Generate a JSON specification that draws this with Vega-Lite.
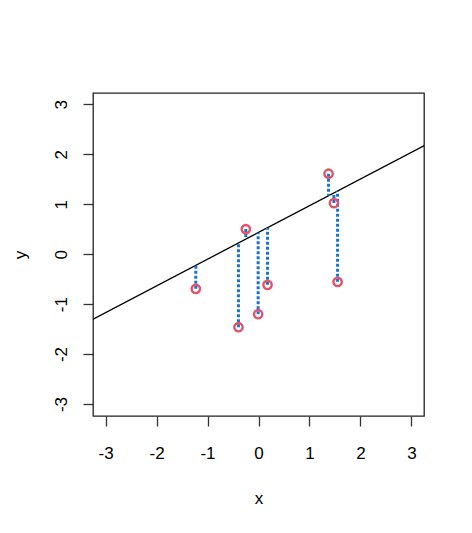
{
  "$schema": "https://vega.github.io/schema/vega-lite/v6.json",
  "autosize": {"type": "none"},
  "width": 331,
  "height": 323,
  "padding": {"left": 93, "top": 93, "right": 48, "bottom": 117},
  "background": "white",
  "config": {
    "font": "Liberation Sans",
    "view": {"stroke": "#222222", "strokeWidth": 1.3},
    "axis": {
      "grid": false,
      "domain": false,
      "tickColor": "#333333",
      "tickSize": 10,
      "tickWidth": 1.3,
      "labelFont": "Liberation Sans",
      "labelFontSize": 17,
      "labelColor": "#000000",
      "labelFlush": false,
      "labelOverlap": false,
      "titleFont": "Liberation Sans",
      "titleFontSize": 17,
      "titleFontWeight": "normal",
      "titleColor": "#000000"
    }
  },
  "datasets": {
    "pts": [
      {"x": -1.23, "y": -0.695, "yhat": -0.224},
      {"x": -0.393, "y": -1.463, "yhat": 0.224},
      {"x": -0.249, "y": 0.501, "yhat": 0.301},
      {"x": -0.007, "y": -1.202, "yhat": 0.430},
      {"x": 0.177, "y": -0.615, "yhat": 0.529},
      {"x": 1.374, "y": 1.61, "yhat": 1.169},
      {"x": 1.479, "y": 1.022, "yhat": 1.225},
      {"x": 1.551, "y": -0.554, "yhat": 1.264}
    ],
    "fit": [
      {"x": -4, "y": -1.706},
      {"x": 4, "y": 2.574}
    ]
  },
  "encoding": {
    "x": {"field": "x", "type": "quantitative",
          "scale": {"domain": [-3.246, 3.246], "nice": false, "zero": false},
          "axis": {"values": [-3, -2, -1, 0, 1, 2, 3], "title": "x", "labelPadding": 19, "titlePadding": 29,
                   "labelExpr": "datum.value < 0 ? '-' + abs(datum.value) : '' + datum.value"}},
    "y": {"field": "y", "type": "quantitative",
          "scale": {"domain": [-3.24, 3.226], "nice": false, "zero": false},
          "axis": {"values": [-3, -2, -1, 0, 1, 2, 3], "title": "y", "labelAngle": -90, "labelAlign": "center", "labelBaseline": "middle", "labelPadding": 22, "titlePadding": 23,
                   "labelExpr": "datum.value < 0 ? '-' + abs(datum.value) : '' + datum.value"}}
  },
  "layer": [
    {
      "data": {"name": "fit"},
      "mark": {"type": "line", "color": "#000000", "strokeWidth": 1.3, "clip": true}
    },
    {
      "data": {"name": "pts"},
      "mark": {"type": "rule", "color": "#1874CD", "strokeWidth": 3, "strokeDash": [3, 2]},
      "encoding": {
        "y2": {"field": "yhat"}
      }
    },
    {
      "data": {"name": "pts"},
      "mark": {"type": "point", "shape": "circle", "filled": false, "color": "#DF536B", "strokeWidth": 2.4, "size": 70, "opacity": 1}
    }
  ]
}
